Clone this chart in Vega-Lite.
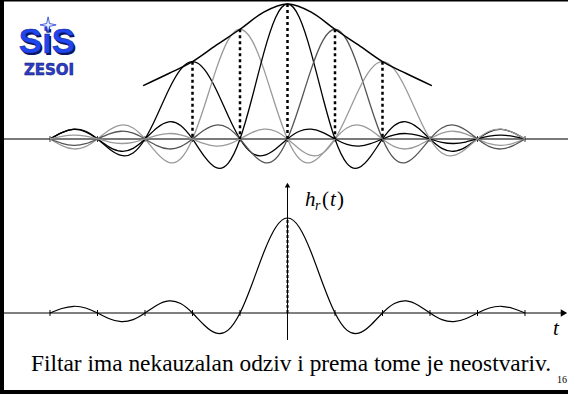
{
  "$schema": "https://vega.github.io/schema/vega-lite/v6.json",
  "width": 568,
  "height": 394,
  "autosize": {"type": "none"},
  "padding": 0,
  "background": "white",
  "config": {"view": {"stroke": null}, "axis": {"disable": true}, "legend": {"disable": true}},
  "data": {"values": [{}]},
  "datasets": {
    "sinc": [
      {"k":-2,"t":-5,"v":0},{"k":-2,"t":-4.75,"v":0.0469},{"k":-2,"t":-4.5,"v":0.0729},{"k":-2,"t":-4.25,"v":0.0573},{"k":-2,"t":-4,"v":0},{"k":-2,"t":-3.75,"v":-0.0737},{"k":-2,"t":-3.5,"v":-0.1216},{"k":-2,"t":-3.25,"v":-0.1032},{"k":-2,"t":-3,"v":0},{"k":-2,"t":-2.75,"v":0.172},{"k":-2,"t":-2.5,"v":0.3648},{"k":-2,"t":-2.25,"v":0.5159},{"k":-2,"t":-2,"v":0.573},{"k":-2,"t":-1.75,"v":0.5159},{"k":-2,"t":-1.5,"v":0.3648},{"k":-2,"t":-1.25,"v":0.172},{"k":-2,"t":-1,"v":0},{"k":-2,"t":-0.75,"v":-0.1032},{"k":-2,"t":-0.5,"v":-0.1216},{"k":-2,"t":-0.25,"v":-0.0737},{"k":-2,"t":0,"v":0},{"k":-2,"t":0.25,"v":0.0573},{"k":-2,"t":0.5,"v":0.0729},{"k":-2,"t":0.75,"v":0.0469},{"k":-2,"t":1,"v":0},{"k":-2,"t":1.25,"v":-0.0397},{"k":-2,"t":1.5,"v":-0.0521},{"k":-2,"t":1.75,"v":-0.0344},{"k":-2,"t":2,"v":0},{"k":-2,"t":2.25,"v":0.0304},{"k":-2,"t":2.5,"v":0.0405},{"k":-2,"t":2.75,"v":0.0272},{"k":-2,"t":3,"v":0},{"k":-2,"t":3.25,"v":-0.0246},{"k":-2,"t":3.5,"v":-0.0332},{"k":-2,"t":3.75,"v":-0.0224},{"k":-2,"t":4,"v":0},{"k":-2,"t":4.25,"v":0.0206},{"k":-2,"t":4.5,"v":0.0281},{"k":-2,"t":4.75,"v":0.0191},{"k":-2,"t":5,"v":0},
      {"k":-1,"t":-5,"v":0},{"k":-1,"t":-4.75,"v":-0.0488},{"k":-1,"t":-4.5,"v":-0.0739},{"k":-1,"t":-4.25,"v":-0.0563},{"k":-1,"t":-4,"v":0},{"k":-1,"t":-3.75,"v":0.0665},{"k":-1,"t":-3.5,"v":0.1035},{"k":-1,"t":-3.25,"v":0.0813},{"k":-1,"t":-3,"v":0},{"k":-1,"t":-2.75,"v":-0.1046},{"k":-1,"t":-2.5,"v":-0.1725},{"k":-1,"t":-2.25,"v":-0.1464},{"k":-1,"t":-2,"v":0},{"k":-1,"t":-1.75,"v":0.244},{"k":-1,"t":-1.5,"v":0.5176},{"k":-1,"t":-1.25,"v":0.7319},{"k":-1,"t":-1,"v":0.813},{"k":-1,"t":-0.75,"v":0.7319},{"k":-1,"t":-0.5,"v":0.5176},{"k":-1,"t":-0.25,"v":0.244},{"k":-1,"t":0,"v":0},{"k":-1,"t":0.25,"v":-0.1464},{"k":-1,"t":0.5,"v":-0.1725},{"k":-1,"t":0.75,"v":-0.1046},{"k":-1,"t":1,"v":0},{"k":-1,"t":1.25,"v":0.0813},{"k":-1,"t":1.5,"v":0.1035},{"k":-1,"t":1.75,"v":0.0665},{"k":-1,"t":2,"v":0},{"k":-1,"t":2.25,"v":-0.0563},{"k":-1,"t":2.5,"v":-0.0739},{"k":-1,"t":2.75,"v":-0.0488},{"k":-1,"t":3,"v":0},{"k":-1,"t":3.25,"v":0.0431},{"k":-1,"t":3.5,"v":0.0575},{"k":-1,"t":3.75,"v":0.0385},{"k":-1,"t":4,"v":0},{"k":-1,"t":4.25,"v":-0.0349},{"k":-1,"t":4.5,"v":-0.0471},{"k":-1,"t":4.75,"v":-0.0318},{"k":-1,"t":5,"v":0},
      {"k":0,"t":-5,"v":0},{"k":0,"t":-4.75,"v":0.0474},{"k":0,"t":-4.5,"v":0.0707},{"k":0,"t":-4.25,"v":0.053},{"k":0,"t":-4,"v":0},{"k":0,"t":-3.75,"v":-0.06},{"k":0,"t":-3.5,"v":-0.0909},{"k":0,"t":-3.25,"v":-0.0693},{"k":0,"t":-3,"v":0},{"k":0,"t":-2.75,"v":0.0818},{"k":0,"t":-2.5,"v":0.1273},{"k":0,"t":-2.25,"v":0.1},{"k":0,"t":-2,"v":0},{"k":0,"t":-1.75,"v":-0.1286},{"k":0,"t":-1.5,"v":-0.2122},{"k":0,"t":-1.25,"v":-0.1801},{"k":0,"t":-1,"v":0},{"k":0,"t":-0.75,"v":0.3001},{"k":0,"t":-0.5,"v":0.6366},{"k":0,"t":-0.25,"v":0.9003},{"k":0,"t":0,"v":1},{"k":0,"t":0.25,"v":0.9003},{"k":0,"t":0.5,"v":0.6366},{"k":0,"t":0.75,"v":0.3001},{"k":0,"t":1,"v":0},{"k":0,"t":1.25,"v":-0.1801},{"k":0,"t":1.5,"v":-0.2122},{"k":0,"t":1.75,"v":-0.1286},{"k":0,"t":2,"v":0},{"k":0,"t":2.25,"v":0.1},{"k":0,"t":2.5,"v":0.1273},{"k":0,"t":2.75,"v":0.0818},{"k":0,"t":3,"v":0},{"k":0,"t":3.25,"v":-0.0693},{"k":0,"t":3.5,"v":-0.0909},{"k":0,"t":3.75,"v":-0.06},{"k":0,"t":4,"v":0},{"k":0,"t":4.25,"v":0.053},{"k":0,"t":4.5,"v":0.0707},{"k":0,"t":4.75,"v":0.0474},{"k":0,"t":5,"v":0},
      {"k":1,"t":-5,"v":0},{"k":1,"t":-4.75,"v":-0.0318},{"k":1,"t":-4.5,"v":-0.0471},{"k":1,"t":-4.25,"v":-0.0349},{"k":1,"t":-4,"v":0},{"k":1,"t":-3.75,"v":0.0385},{"k":1,"t":-3.5,"v":0.0575},{"k":1,"t":-3.25,"v":0.0431},{"k":1,"t":-3,"v":0},{"k":1,"t":-2.75,"v":-0.0488},{"k":1,"t":-2.5,"v":-0.0739},{"k":1,"t":-2.25,"v":-0.0563},{"k":1,"t":-2,"v":0},{"k":1,"t":-1.75,"v":0.0665},{"k":1,"t":-1.5,"v":0.1035},{"k":1,"t":-1.25,"v":0.0813},{"k":1,"t":-1,"v":0},{"k":1,"t":-0.75,"v":-0.1046},{"k":1,"t":-0.5,"v":-0.1725},{"k":1,"t":-0.25,"v":-0.1464},{"k":1,"t":0,"v":0},{"k":1,"t":0.25,"v":0.244},{"k":1,"t":0.5,"v":0.5176},{"k":1,"t":0.75,"v":0.7319},{"k":1,"t":1,"v":0.813},{"k":1,"t":1.25,"v":0.7319},{"k":1,"t":1.5,"v":0.5176},{"k":1,"t":1.75,"v":0.244},{"k":1,"t":2,"v":0},{"k":1,"t":2.25,"v":-0.1464},{"k":1,"t":2.5,"v":-0.1725},{"k":1,"t":2.75,"v":-0.1046},{"k":1,"t":3,"v":0},{"k":1,"t":3.25,"v":0.0813},{"k":1,"t":3.5,"v":0.1035},{"k":1,"t":3.75,"v":0.0665},{"k":1,"t":4,"v":0},{"k":1,"t":4.25,"v":-0.0563},{"k":1,"t":4.5,"v":-0.0739},{"k":1,"t":4.75,"v":-0.0488},{"k":1,"t":5,"v":0},
      {"k":2,"t":-5,"v":0},{"k":2,"t":-4.75,"v":0.0191},{"k":2,"t":-4.5,"v":0.0281},{"k":2,"t":-4.25,"v":0.0206},{"k":2,"t":-4,"v":0},{"k":2,"t":-3.75,"v":-0.0224},{"k":2,"t":-3.5,"v":-0.0332},{"k":2,"t":-3.25,"v":-0.0246},{"k":2,"t":-3,"v":0},{"k":2,"t":-2.75,"v":0.0272},{"k":2,"t":-2.5,"v":0.0405},{"k":2,"t":-2.25,"v":0.0304},{"k":2,"t":-2,"v":0},{"k":2,"t":-1.75,"v":-0.0344},{"k":2,"t":-1.5,"v":-0.0521},{"k":2,"t":-1.25,"v":-0.0397},{"k":2,"t":-1,"v":0},{"k":2,"t":-0.75,"v":0.0469},{"k":2,"t":-0.5,"v":0.0729},{"k":2,"t":-0.25,"v":0.0573},{"k":2,"t":0,"v":0},{"k":2,"t":0.25,"v":-0.0737},{"k":2,"t":0.5,"v":-0.1216},{"k":2,"t":0.75,"v":-0.1032},{"k":2,"t":1,"v":0},{"k":2,"t":1.25,"v":0.172},{"k":2,"t":1.5,"v":0.3648},{"k":2,"t":1.75,"v":0.5159},{"k":2,"t":2,"v":0.573},{"k":2,"t":2.25,"v":0.5159},{"k":2,"t":2.5,"v":0.3648},{"k":2,"t":2.75,"v":0.172},{"k":2,"t":3,"v":0},{"k":2,"t":3.25,"v":-0.1032},{"k":2,"t":3.5,"v":-0.1216},{"k":2,"t":3.75,"v":-0.0737},{"k":2,"t":4,"v":0},{"k":2,"t":4.25,"v":0.0573},{"k":2,"t":4.5,"v":0.0729},{"k":2,"t":4.75,"v":0.0469},{"k":2,"t":5,"v":0}
    ],
    "samples": [
      {"t":-2,"v":0.573},{"t":-1,"v":0.813},{"t":0,"v":1},{"t":1,"v":0.813},{"t":2,"v":0.573}
    ],
    "envelope": [
      {"t":-3.04,"v":0.395},{"t":-2.5,"v":0.485},{"t":-2,"v":0.573},{"t":-1.5,"v":0.695},{"t":-1,"v":0.813},{"t":-0.5,"v":0.94},{"t":0,"v":1},
      {"t":0.5,"v":0.94},{"t":1,"v":0.813},{"t":1.5,"v":0.695},{"t":2,"v":0.573},{"t":2.5,"v":0.485},{"t":3.04,"v":0.395}
    ],
    "ticks": [
      {"t":-5},{"t":-4},{"t":-3},{"t":-2},{"t":-1},{"t":0},{"t":1},{"t":2},{"t":3},{"t":4},{"t":5}
    ]
  },
  "layer": [
    {
      "layer": [
        {
          "mark": {"type": "rule", "color": "#7a7a7a", "strokeWidth": 2},
          "encoding": {
            "x": {"datum": -5.968, "type": "quantitative", "scale": {"domain": [-6.0526, 5.9053], "nice": false, "zero": false}},
            "x2": {"datum": 5.9053},
            "y": {"datum": 0, "type": "quantitative", "scale": {"domain": [-1.8889, 1.0296], "nice": false, "zero": false}}
          }
        },
        {
          "data": {"name": "ticks"},
          "mark": {"type": "rule", "color": "#333333", "strokeWidth": 1},
          "encoding": {
            "x": {"field": "t", "type": "quantitative", "scale": {"domain": [-6.0526, 5.9053], "nice": false, "zero": false}},
            "y": {"datum": -0.022, "type": "quantitative", "scale": {"domain": [-1.8889, 1.0296], "nice": false, "zero": false}},
            "y2": {"datum": 0.022}
          }
        },
        {
          "data": {"name": "sinc"},
          "mark": {"type": "line", "interpolate": "natural", "strokeWidth": 1.3},
          "encoding": {
            "x": {"field": "t", "type": "quantitative", "scale": {"domain": [-6.0526, 5.9053], "nice": false, "zero": false}},
            "y": {"field": "v", "type": "quantitative", "scale": {"domain": [-1.8889, 1.0296], "nice": false, "zero": false}},
            "color": {"field": "k", "type": "nominal", "scale": {"domain": [-2, -1, 0, 1, 2], "range": ["#000000", "#9a9a9a", "#000000", "#555555", "#9a9a9a"]}, "legend": null}
          }
        },
        {
          "data": {"name": "envelope"},
          "mark": {"type": "line", "interpolate": "monotone", "color": "#000000", "strokeWidth": 1.5},
          "encoding": {
            "x": {"field": "t", "type": "quantitative", "scale": {"domain": [-6.0526, 5.9053], "nice": false, "zero": false}},
            "y": {"field": "v", "type": "quantitative", "scale": {"domain": [-1.8889, 1.0296], "nice": false, "zero": false}}
          }
        },
        {
          "data": {"name": "samples"},
          "mark": {"type": "rule", "color": "#000000", "strokeWidth": 2.5, "strokeDash": [3, 3]},
          "encoding": {
            "x": {"field": "t", "type": "quantitative", "scale": {"domain": [-6.0526, 5.9053], "nice": false, "zero": false}},
            "y": {"field": "v", "type": "quantitative", "scale": {"domain": [-1.8889, 1.0296], "nice": false, "zero": false}},
            "y2": {"datum": 0}
          }
        },
        {
          "mark": {"type": "rule", "color": "#000000", "strokeWidth": 1.5},
          "encoding": {
            "y": {"datum": 1.0241, "type": "quantitative", "scale": {"domain": [-1.8889, 1.0296], "nice": false, "zero": false}}
          }
        },
        {
          "mark": {"type": "rule", "color": "#000000", "strokeWidth": 4},
          "encoding": {
            "x": {"datum": -6.0105, "type": "quantitative", "scale": {"domain": [-6.0526, 5.9053], "nice": false, "zero": false}}
          }
        },
        {
          "mark": {"type": "text", "text": "SiS", "font": "Liberation Sans", "fontWeight": "bold", "fontSize": 35, "fill": "#0a1460", "dx": 1.5, "dy": 1.5, "align": "center", "baseline": "alphabetic"},
          "encoding": {
            "x": {"datum": -5.063, "type": "quantitative", "scale": {"domain": [-6.0526, 5.9053], "nice": false, "zero": false}},
            "y": {"datum": 0.637, "type": "quantitative", "scale": {"domain": [-1.8889, 1.0296], "nice": false, "zero": false}}
          }
        },
        {
          "mark": {"type": "text", "text": "SiS", "font": "Liberation Sans", "fontWeight": "bold", "fontSize": 35, "fill": "#1f45ee", "stroke": "#12238f", "strokeWidth": 0.5, "align": "center", "baseline": "alphabetic"},
          "encoding": {
            "x": {"datum": -5.063, "type": "quantitative", "scale": {"domain": [-6.0526, 5.9053], "nice": false, "zero": false}},
            "y": {"datum": 0.637, "type": "quantitative", "scale": {"domain": [-1.8889, 1.0296], "nice": false, "zero": false}}
          }
        },
        {
          "mark": {"type": "point", "shape": "M0,-1L0.18,-0.18L1,0L0.18,0.18L0,1L-0.18,0.18L-1,0L-0.18,-0.18Z", "filled": true, "size": 260, "color": "#e6eeff", "stroke": "#1f3fd6", "strokeWidth": 0.8, "opacity": 1},
          "encoding": {
            "x": {"datum": -5.04, "type": "quantitative", "scale": {"domain": [-6.0526, 5.9053], "nice": false, "zero": false}},
            "y": {"datum": 0.845, "type": "quantitative", "scale": {"domain": [-1.8889, 1.0296], "nice": false, "zero": false}}
          }
        },
        {
          "mark": {"type": "text", "text": "ZESOI", "font": "DejaVu Sans", "fontWeight": "bold", "fontSize": 15, "fill": "#2b3cc9", "stroke": "#0b1470", "strokeWidth": 0.5, "align": "center", "baseline": "alphabetic"},
          "encoding": {
            "x": {"datum": -5.02, "type": "quantitative", "scale": {"domain": [-6.0526, 5.9053], "nice": false, "zero": false}},
            "y": {"datum": 0.474, "type": "quantitative", "scale": {"domain": [-1.8889, 1.0296], "nice": false, "zero": false}}
          }
        }
      ]
    },
    {
      "layer": [
        {
          "mark": {"type": "rule", "color": "#000000", "strokeWidth": 1},
          "encoding": {
            "x": {"datum": -5.968, "type": "quantitative", "scale": {"domain": [-6.0526, 5.9053], "nice": false, "zero": false}},
            "x2": {"datum": 5.86},
            "y": {"datum": 0, "type": "quantitative", "scale": {"domain": [-0.8526, 3.2947], "nice": false, "zero": false}}
          }
        },
        {
          "mark": {"type": "point", "shape": "triangle-right", "filled": true, "size": 55, "color": "#000000", "opacity": 1},
          "encoding": {
            "x": {"datum": 5.82, "type": "quantitative", "scale": {"domain": [-6.0526, 5.9053], "nice": false, "zero": false}},
            "y": {"datum": 0, "type": "quantitative", "scale": {"domain": [-0.8526, 3.2947], "nice": false, "zero": false}}
          }
        },
        {
          "mark": {"type": "rule", "color": "#000000", "strokeWidth": 1},
          "encoding": {
            "x": {"datum": 0, "type": "quantitative", "scale": {"domain": [-6.0526, 5.9053], "nice": false, "zero": false}},
            "y": {"datum": -0.284, "type": "quantitative", "scale": {"domain": [-0.8526, 3.2947], "nice": false, "zero": false}},
            "y2": {"datum": 1.33}
          }
        },
        {
          "mark": {"type": "point", "shape": "triangle-up", "filled": true, "size": 30, "color": "#000000", "opacity": 1},
          "encoding": {
            "x": {"datum": 0, "type": "quantitative", "scale": {"domain": [-6.0526, 5.9053], "nice": false, "zero": false}},
            "y": {"datum": 1.345, "type": "quantitative", "scale": {"domain": [-0.8526, 3.2947], "nice": false, "zero": false}}
          }
        },
        {
          "data": {"name": "ticks"},
          "mark": {"type": "rule", "color": "#000000", "strokeWidth": 1},
          "encoding": {
            "x": {"field": "t", "type": "quantitative", "scale": {"domain": [-6.0526, 5.9053], "nice": false, "zero": false}},
            "y": {"datum": -0.0316, "type": "quantitative", "scale": {"domain": [-0.8526, 3.2947], "nice": false, "zero": false}},
            "y2": {"datum": 0.0316}
          }
        },
        {
          "data": {"name": "sinc"},
          "transform": [{"filter": "datum.k == 0"}],
          "mark": {"type": "line", "interpolate": "natural", "color": "#000000", "strokeWidth": 1.2},
          "encoding": {
            "x": {"field": "t", "type": "quantitative", "scale": {"domain": [-6.0526, 5.9053], "nice": false, "zero": false}},
            "y": {"field": "v", "type": "quantitative", "scale": {"domain": [-0.8526, 3.2947], "nice": false, "zero": false}}
          }
        },
        {
          "mark": {"type": "rule", "color": "#000000", "strokeWidth": 2, "strokeDash": [3, 2]},
          "encoding": {
            "x": {"datum": 0, "type": "quantitative", "scale": {"domain": [-6.0526, 5.9053], "nice": false, "zero": false}},
            "y": {"datum": 0, "type": "quantitative", "scale": {"domain": [-0.8526, 3.2947], "nice": false, "zero": false}},
            "y2": {"datum": 1}
          }
        },
        {
          "mark": {"type": "text", "text": "h", "font": "Liberation Serif", "fontStyle": "italic", "fontSize": 21, "color": "#000000", "align": "left", "baseline": "alphabetic"},
          "encoding": {
            "x": {"datum": 0.368, "type": "quantitative", "scale": {"domain": [-6.0526, 5.9053], "nice": false, "zero": false}},
            "y": {"datum": 1.126, "type": "quantitative", "scale": {"domain": [-0.8526, 3.2947], "nice": false, "zero": false}}
          }
        },
        {
          "mark": {"type": "text", "text": "r", "font": "Liberation Serif", "fontStyle": "italic", "fontSize": 14, "color": "#000000", "align": "left", "baseline": "alphabetic"},
          "encoding": {
            "x": {"datum": 0.579, "type": "quantitative", "scale": {"domain": [-6.0526, 5.9053], "nice": false, "zero": false}},
            "y": {"datum": 1.084, "type": "quantitative", "scale": {"domain": [-0.8526, 3.2947], "nice": false, "zero": false}}
          }
        },
        {
          "mark": {"type": "text", "text": "(", "font": "Liberation Serif", "fontSize": 21, "color": "#000000", "align": "left", "baseline": "alphabetic"},
          "encoding": {
            "x": {"datum": 0.726, "type": "quantitative", "scale": {"domain": [-6.0526, 5.9053], "nice": false, "zero": false}},
            "y": {"datum": 1.126, "type": "quantitative", "scale": {"domain": [-0.8526, 3.2947], "nice": false, "zero": false}}
          }
        },
        {
          "mark": {"type": "text", "text": "t", "font": "Liberation Serif", "fontStyle": "italic", "fontSize": 21, "color": "#000000", "align": "left", "baseline": "alphabetic"},
          "encoding": {
            "x": {"datum": 0.895, "type": "quantitative", "scale": {"domain": [-6.0526, 5.9053], "nice": false, "zero": false}},
            "y": {"datum": 1.126, "type": "quantitative", "scale": {"domain": [-0.8526, 3.2947], "nice": false, "zero": false}}
          }
        },
        {
          "mark": {"type": "text", "text": ")", "font": "Liberation Serif", "fontSize": 21, "color": "#000000", "align": "left", "baseline": "alphabetic"},
          "encoding": {
            "x": {"datum": 1.042, "type": "quantitative", "scale": {"domain": [-6.0526, 5.9053], "nice": false, "zero": false}},
            "y": {"datum": 1.126, "type": "quantitative", "scale": {"domain": [-0.8526, 3.2947], "nice": false, "zero": false}}
          }
        },
        {
          "mark": {"type": "text", "text": "t", "font": "Liberation Serif", "fontStyle": "italic", "fontSize": 21, "color": "#000000", "align": "center", "baseline": "alphabetic"},
          "encoding": {
            "x": {"datum": 5.653, "type": "quantitative", "scale": {"domain": [-6.0526, 5.9053], "nice": false, "zero": false}},
            "y": {"datum": -0.2316, "type": "quantitative", "scale": {"domain": [-0.8526, 3.2947], "nice": false, "zero": false}}
          }
        },
        {
          "mark": {"type": "text", "text": "Filtar ima nekauzalan odziv i prema tome je neostvariv.", "font": "Liberation Serif", "fontSize": 23.4, "color": "#000000", "align": "center", "baseline": "alphabetic"},
          "encoding": {
            "x": {"datum": 0.0737, "type": "quantitative", "scale": {"domain": [-6.0526, 5.9053], "nice": false, "zero": false}},
            "y": {"datum": -0.6105, "type": "quantitative", "scale": {"domain": [-0.8526, 3.2947], "nice": false, "zero": false}}
          }
        },
        {
          "mark": {"type": "text", "text": "16", "font": "Liberation Serif", "fontSize": 10, "color": "#000000", "align": "center", "baseline": "alphabetic"},
          "encoding": {
            "x": {"datum": 5.779, "type": "quantitative", "scale": {"domain": [-6.0526, 5.9053], "nice": false, "zero": false}},
            "y": {"datum": -0.737, "type": "quantitative", "scale": {"domain": [-0.8526, 3.2947], "nice": false, "zero": false}}
          }
        },
        {
          "mark": {"type": "rule", "color": "#000000", "strokeWidth": 4},
          "encoding": {
            "y": {"datum": -0.8316, "type": "quantitative", "scale": {"domain": [-0.8526, 3.2947], "nice": false, "zero": false}}
          }
        }
      ]
    }
  ],
  "resolve": {"scale": {"y": "independent"}}
}
